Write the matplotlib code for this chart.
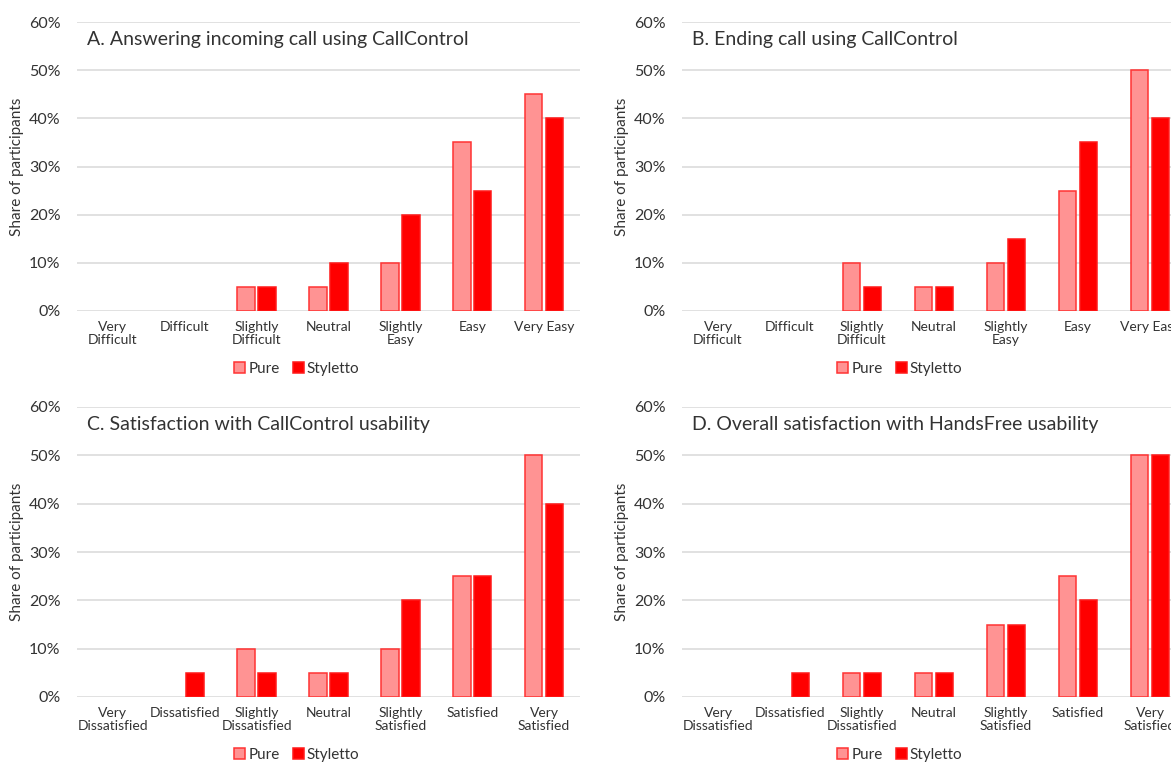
import matplotlib.pyplot as plt
import numpy as np
from matplotlib.ticker import PercentFormatter

plt.rcParams["font.family"] = ["Lato", "DejaVu Sans"]

W, H = 1171, 763

ease_cats = ["Very\nDifficult", "Difficult", "Slightly\nDifficult", "Neutral",
             "Slightly\nEasy", "Easy", "Very Easy"]
sat_cats = ["Very\nDissatisfied", "Dissatisfied", "Slightly\nDissatisfied", "Neutral",
            "Slightly\nSatisfied", "Satisfied", "Very\nSatisfied"]

answer_pure = [0, 0, 5, 5, 10, 35, 45]
answer_styletto = [0, 0, 5, 10, 20, 25, 40]
ending_pure = [0, 0, 10, 5, 10, 25, 50]
ending_styletto = [0, 0, 5, 5, 15, 35, 40]
callctl_pure = [0, 0, 10, 5, 10, 25, 50]
callctl_styletto = [0, 5, 5, 5, 20, 25, 40]
handsfree_pure = [0, 0, 5, 5, 15, 25, 50]
handsfree_styletto = [0, 5, 5, 5, 15, 20, 50]

panels = [
    ("A. Answering incoming call using CallControl", ease_cats, answer_pure, answer_styletto),
    ("B. Ending call using CallControl", ease_cats, ending_pure, ending_styletto),
    ("C. Satisfaction with CallControl usability", sat_cats, callctl_pure, callctl_styletto),
    ("D. Overall satisfaction with HandsFree usability", sat_cats, handsfree_pure, handsfree_styletto),
]

# plot boxes in pixels: left, top, right, bottom ; plus legend centre and y-label x
boxes = [
    (77, 22, 580, 311, 297, 369, 17),
    (682, 22, 1186, 311, 900, 369, 622),
    (77, 407, 580, 697, 297, 755, 17),
    (682, 407, 1186, 697, 900, 755, 622),
]

TEXT = "#333333"
GRID = "#D9D9D9"
PURE_FILL, PURE_EDGE = "#FF9393", "#FF3333"
STY_FILL, STY_EDGE = "#FF0000", "#FF1A1A"

fig = plt.figure(figsize=(W / 100, H / 100), dpi=100)

for (title, cats, pure, sty), (l, t, r, b, lx, ly, yx) in zip(panels, boxes):
    ax = fig.add_axes([l / W, 1 - b / H, (r - l) / W, (b - t) / H])
    x = np.arange(len(cats))
    pure = np.array(pure)
    sty = np.array(sty)
    w = 0.245
    off = 0.145
    mp = pure > 0
    ms = sty > 0
    ax.bar(x[mp] - off, pure[mp], w, color=PURE_FILL, edgecolor=PURE_EDGE, linewidth=1.1, zorder=3)
    ax.bar(x[ms] + off, sty[ms], w, color=STY_FILL, edgecolor=STY_EDGE, linewidth=1.1, zorder=3)
    # legend proxies
    ax.bar([0], [0], 0, color=PURE_FILL, edgecolor=PURE_EDGE, linewidth=1.1, label="Pure")
    ax.bar([0], [0], 0, color=STY_FILL, edgecolor=STY_EDGE, linewidth=1.1, label="Styletto")

    ax.set_xlim(-0.5, len(cats) - 0.5)
    ax.set_ylim(0, 60)
    ax.set_yticks(range(0, 61, 10))
    ax.yaxis.set_major_formatter(PercentFormatter(decimals=0))
    ax.set_xticks(x)
    ax.set_xticklabels(cats, linespacing=1.1, fontsize=10, color=TEXT)
    ax.tick_params(axis="x", length=0, pad=7)
    ax.tick_params(axis="y", length=0, pad=12, labelsize=11.5, labelcolor=TEXT)
    for s in ax.spines.values():
        s.set_visible(False)
    ax.grid(axis="y", color=GRID, linewidth=1.1, zorder=0)
    ax.set_axisbelow(True)

    ax.text(0.02, 0.938, title, transform=ax.transAxes, fontsize=14,
            color=TEXT, ha="left", va="center")
    fig.text(yx / W, 1 - (t + b) / 2 / H, "Share of participants", rotation=90,
             fontsize=11, color=TEXT, ha="center", va="center")

    ax.legend(loc="center", bbox_to_anchor=(lx / W, 1 - ly / H), bbox_transform=fig.transFigure,
              ncol=2, frameon=False, fontsize=11, handlelength=0.7, handleheight=0.7,
              handletextpad=0.2, columnspacing=0.9, labelcolor=TEXT)

fig.savefig("out.png", dpi=100)
